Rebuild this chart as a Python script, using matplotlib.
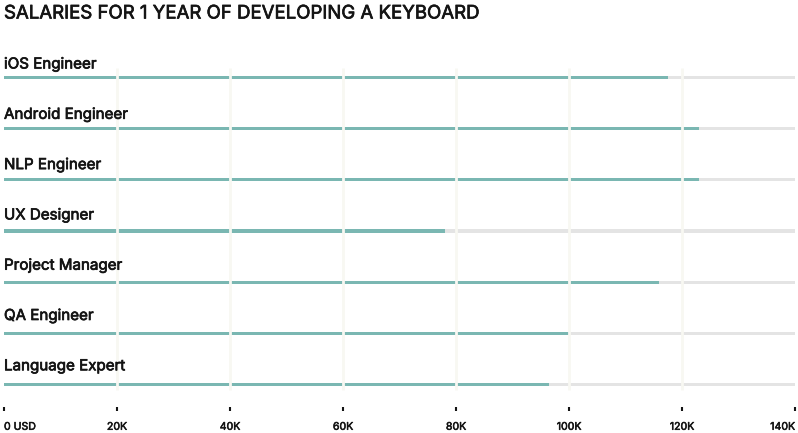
import matplotlib
matplotlib.use('Agg')
import matplotlib.pyplot as plt
import matplotlib.patheffects as pe

plt.rcParams['font.family'] = ['Inter', 'DejaVu Sans']

# 직무별 연봉 (USD)
roles = ['iOS Engineer', 'Android Engineer', 'NLP Engineer', 'UX Designer',
         'Project Manager', 'QA Engineer', 'Language Expert']
salaries = [117500, 123000, 123000, 78000, 116000, 100000, 96500]
x_max = 140000
ticks = [0, 20000, 40000, 60000, 80000, 100000, 120000, 140000]
tick_labels = ['0 USD', '20K', '40K', '60K', '80K', '100K', '120K', '140K']

TEAL = '#7ab7b2'
TRACK = '#e4e4e4'
GRID = '#f8f8f2'
INK = '#141414'

# 굵기 보정 (medium 느낌)
thick = [pe.withStroke(linewidth=0.5, foreground=INK)]

W, H = 798, 433
fig = plt.figure(figsize=(W / 100, H / 100), dpi=100)
# 축 영역 (픽셀 기준)
left, right, top, bottom = 4, 795, 40, 406.5
ax = fig.add_axes([left / W, 1 - bottom / H, (right - left) / W, (bottom - top) / H])

row_px = 51.2
y0_px = 77.3
ax.set_xlim(0, x_max)
ax.set_ylim((bottom - y0_px) / row_px, (top - y0_px) / row_px)

bar_h = 3.2 / row_px
ys = list(range(len(roles)))
ax.barh(ys, [x_max] * len(roles), height=bar_h, color=TRACK, zorder=1)
ax.barh(ys, salaries, height=bar_h, color=TEAL, zorder=2)

# 세로 그리드 (막대 위에)
g_top = (68 - y0_px) / row_px
g_bot = (390 - y0_px) / row_px
ax.vlines(ticks[1:-1], g_bot, g_top, color=GRID, lw=2, zorder=3)

# 라벨 간격은 막대 간격보다 약간 좁음
label_px = 50.3
for i, r in enumerate(roles):
    yb = (68.5 + label_px * i - y0_px) / row_px
    ax.text(0, yb, r, ha='left', va='baseline', fontsize=10.9,
            color=INK, path_effects=thick)

for s in ax.spines.values():
    s.set_visible(False)
ax.set_yticks([])
ax.set_xticks(ticks)
ax.set_xticklabels(tick_labels, fontsize=7.6, color=INK)
ax.tick_params(axis='x', length=3, width=1.5, color=INK, pad=8)
lbls = ax.get_xticklabels()
for t in lbls:
    t.set_path_effects([pe.withStroke(linewidth=0.4, foreground=INK)])
lbls[0].set_ha('left')
lbls[-1].set_ha('right')

fig.text(4 / W, 1 - 18.5 / H, 'SALARIES FOR 1 YEAR OF DEVELOPING A KEYBOARD',
         ha='left', va='baseline', fontsize=13.4, color=INK, path_effects=thick)

fig.savefig('out.png', dpi=100)
